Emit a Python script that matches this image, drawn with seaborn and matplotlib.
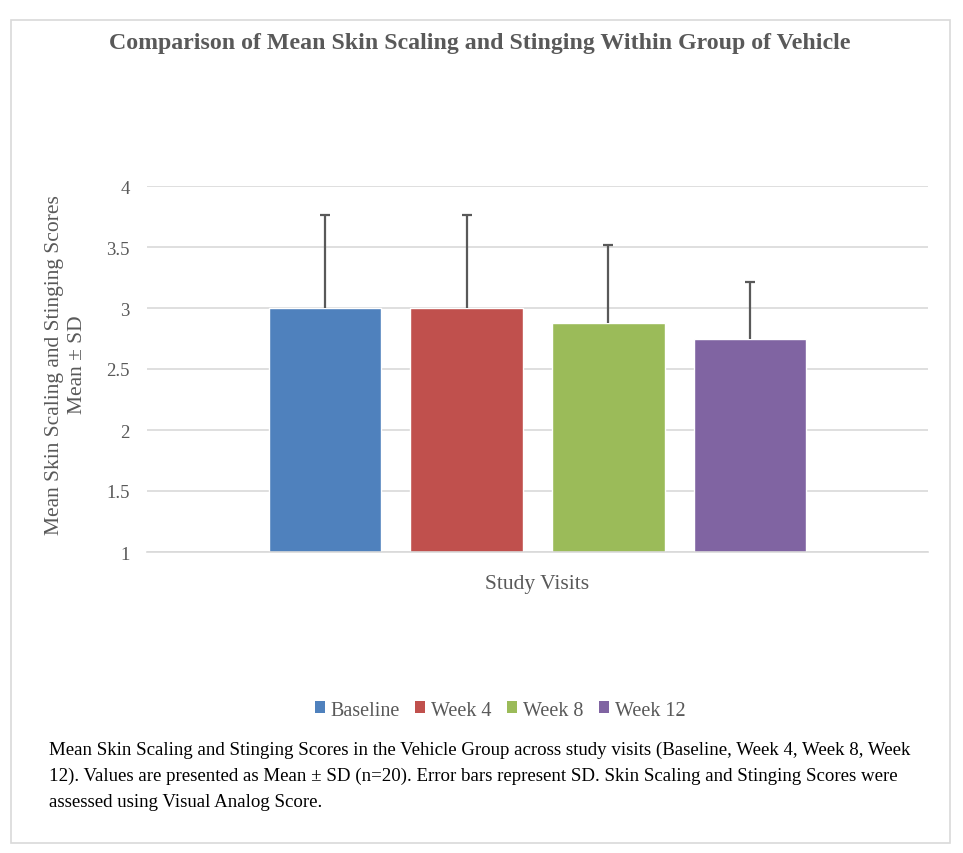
import matplotlib
matplotlib.use("Agg")
import matplotlib.pyplot as plt
import seaborn as sns
import pandas as pd
import numpy as np
from matplotlib.patches import Rectangle, Patch

visits = ["Baseline", "Week 4", "Week 8", "Week 12"]
means = [3.0, 3.0, 2.88, 2.75]
sds = [0.76, 0.76, 0.64, 0.46]
colors = ["#4F81BD", "#C0504D", "#9BBB59", "#8064A2"]
yticks = [1, 1.5, 2, 2.5, 3, 3.5, 4]

df = pd.DataFrame({"group": ["Study Visits"] * 4, "visit": visits, "mean": means})

sns.set_theme(style="white")
plt.rcParams["font.family"] = ["Liberation Serif", "DejaVu Serif"]

W, H = 963, 854
fig = plt.figure(figsize=(W / 100, H / 100), dpi=100)
ax = fig.add_axes([147 / W, 1 - 553 / H, (928 - 147) / W, (553 - 187) / H])

sns.barplot(data=df, x="group", y="mean", hue="visit", hue_order=visits,
            palette=colors, width=0.727, gap=0.21, ax=ax, legend=False,
            saturation=1, errorbar=None)

bars = [p for p in ax.patches][:4]
for p, m, s in zip(bars, means, sds):
    cx = p.get_x() + p.get_width() / 2
    _, caps, _ = ax.errorbar(cx, m, yerr=[[0], [s]], fmt="none", ecolor="#595959",
                             elinewidth=1.6, capsize=3.4, capthick=1.6, zorder=5)
    caps[0].set_visible(False)

ax.set_ylim(1, 4)
ax.set_xlim(-0.5, 0.5)
ax.set_yticks(yticks)
ax.set_yticklabels([f"{t:g}" for t in yticks], fontsize=13.5, color="#595959")
ax.yaxis.grid(True, color="#D9D9D9", linewidth=1.2)
ax.set_axisbelow(True)
for s in ["top", "right", "left"]:
    ax.spines[s].set_visible(False)
ax.spines["bottom"].set_color("#D9D9D9")
ax.spines["bottom"].set_linewidth(1.2)
ax.tick_params(axis="y", length=0, pad=12.5)
ax.tick_params(axis="x", length=0)
ax.set_xticklabels([])
ax.set_xlabel("")
ax.set_ylabel("")

fig.text(537 / W, 1 - 585 / H, "Study Visits", ha="center", va="center",
         fontsize=15.5, color="#595959")
fig.text(66 / W, 1 - 365 / H, "Mean Skin Scaling and Stinging Scores\nMean ± SD",
         ha="center", va="center", rotation=90, fontsize=15.5, color="#595959",
         linespacing=1.25)

fig.text(480 / W, 1 - 43 / H,
         "Comparison of Mean Skin Scaling and Stinging Within Group of Vehicle",
         ha="center", va="center", fontsize=17.2, fontweight="bold", color="#595959")

handles = [Patch(facecolor=c, edgecolor="none", label=v) for v, c in zip(visits, colors)]
fig.legend(handles=handles, loc="center", bbox_to_anchor=(500 / W, 1 - 711 / H),
           ncol=4, frameon=False, fontsize=14.5, handlelength=0.5, handleheight=0.55,
           handletextpad=0.3, columnspacing=0.75, labelcolor="#595959")

caption = ("Mean Skin Scaling and Stinging Scores in the Vehicle Group across study visits (Baseline, Week 4, Week 8, Week\n"
           "12). Values are presented as Mean ± SD (n=20). Error bars represent SD. Skin Scaling and Stinging Scores were\n"
           "assessed using Visual Analog Score.")
fig.text(49 / W, 1 - 776 / H, caption, ha="left", va="center", fontsize=13.6,
         color="black", linespacing=1.68)

fig.patches.append(Rectangle((11 / W, 1 - 844 / H), (950 - 11) / W, (844 - 21) / H,
                             transform=fig.transFigure, fill=False,
                             edgecolor="#D9D9D9", linewidth=1.2))

fig.savefig("out.png", dpi=100)
